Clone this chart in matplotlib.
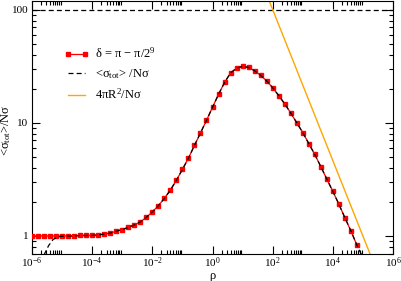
import numpy as np
import matplotlib
matplotlib.use("Agg")
import matplotlib.pyplot as plt
from matplotlib.ticker import FixedLocator, NullFormatter, FuncFormatter

plt.rcParams['font.family'] = ['Liberation Serif', 'DejaVu Serif']
plt.rcParams['mathtext.fontset'] = 'custom'
plt.rcParams['mathtext.rm'] = 'Liberation Serif'
plt.rcParams['mathtext.it'] = 'Liberation Serif:italic'

# data (log10 rho, <sigma_tot>/N sigma)
log_rho = [-6.0, -5.8, -5.6, -5.4, -5.2, -5.0, -4.8, -4.6, -4.4, -4.2,
           -4.0, -3.8, -3.6, -3.4, -3.2, -3.0, -2.8, -2.6, -2.4, -2.2,
           -2.0, -1.8, -1.6, -1.4, -1.2, -1.0, -0.8, -0.6, -0.4, -0.2,
           0.0, 0.2, 0.4, 0.6, 0.8, 1.0, 1.2, 1.4, 1.6, 1.8,
           2.0, 2.2, 2.4, 2.6, 2.8, 3.0, 3.2, 3.4, 3.6, 3.8,
           4.0, 4.2, 4.4, 4.6, 4.8]
sigma = [1.00, 1.00, 1.00, 1.00, 1.00, 1.00, 1.00, 1.00, 1.01, 1.01,
         1.01, 1.02, 1.04, 1.06, 1.10, 1.14, 1.19, 1.25, 1.33, 1.46,
         1.63, 1.85, 2.15, 2.54, 3.11, 3.87, 4.87, 6.30, 8.13, 10.5,
         13.7, 17.8, 22.7, 27.5, 30.4, 31.5, 30.8, 28.8, 26.2, 23.4,
         20.4, 17.4, 14.7, 12.2, 10.0, 8.20, 6.55, 5.25, 4.10, 3.18,
         2.48, 1.91, 1.45, 1.11, 0.83]

# asymptotic (dashed) curve: low-rho start and high-rho end
dash_start_log = [-5.6, -5.45, -5.3, -5.15, -5.0]
dash_start_val = [0.68, 0.82, 0.93, 0.98, 0.995]
dash_end_log = [4.9, 5.0]
dash_end_val = [0.73, 0.65]
sigma_limit = 100.0

# geometric 4 pi R^2 / N sigma line
geo_rho = [1e1, 1e6]
geo_val = [464.0, 0.215]

rho = 10.0 ** np.array(log_rho)
dash_log = dash_start_log + log_rho[6:] + dash_end_log
dash_val = dash_start_val + sigma[6:] + dash_end_val
dash_rho = 10.0 ** np.array(dash_log)

fig = plt.figure(figsize=(4.01, 2.81), dpi=100)
ax = fig.add_axes([32/401, 1 - 254/281, (393-32)/401, 253/281])

ax.plot(rho, sigma, color='red', lw=0.9, marker='s', ms=3.2, mec='red',
        label='δ = π − π/$\\mathregular{2^9}$', zorder=3)
ax.plot(dash_rho, dash_val, color='black', lw=0.9, ls=(0, (4, 2.5)),
        label='<σ$_{\\mathregular{tot}}$> /Nσ', zorder=4)
ax.axhline(sigma_limit, color='black', lw=0.9, ls=(0, (4, 2.5)))
ax.plot(geo_rho, geo_val, color='orange', lw=1.0,
        label='4πR$^{\\mathregular{2}}$/Nσ')

ax.set_xscale('log')
ax.set_yscale('log')
ax.set_xlim(1e-6, 1e6)
ax.set_ylim(0.693, 119)

xmaj = [10.0 ** k for k in range(-6, 7, 2)]
xmin = [m * 10.0 ** k for k in range(-6, 6, 2) for m in range(2, 10)]
ax.xaxis.set_major_locator(FixedLocator(xmaj))
ax.xaxis.set_minor_locator(FixedLocator(xmin))
ax.xaxis.set_minor_formatter(NullFormatter())
ax.xaxis.set_major_formatter(FuncFormatter(
    lambda v, p: r'$\mathregular{10^{%d}}$' % round(np.log10(v))))

ymaj = [1, 10, 100]
ymin = [m * 10.0 ** k for k in range(-1, 3) for m in range(2, 10)]
ax.yaxis.set_major_locator(FixedLocator(ymaj))
ax.yaxis.set_minor_locator(FixedLocator(ymin))
ax.yaxis.set_minor_formatter(NullFormatter())
ax.yaxis.set_major_formatter(FuncFormatter(lambda v, p: '%d' % v))

ax.tick_params(which='both', direction='in', top=True, right=True,
               labelsize=8, width=0.8)
ax.tick_params(which='major', length=6, pad=2.5)
ax.tick_params(axis='x', which='major', pad=1)
ax.tick_params(which='minor', length=3)
for s in ax.spines.values():
    s.set_linewidth(0.8)

ax.set_xlabel('ρ', fontsize=9, va='top')
ax.xaxis.set_label_coords(0.5, -0.063)
ax.set_ylabel('<σ$_{\\mathregular{tot}}$>/Nσ', fontsize=9)
ax.yaxis.set_label_coords(-0.052, 0.49)

ax.legend(loc='upper left', bbox_to_anchor=(0.075, 0.84), frameon=False,
          fontsize=9, handlelength=1.95, handletextpad=0.5, labelspacing=0.5,
          numpoints=2, borderaxespad=0)

fig.savefig('out.png', dpi=100)
